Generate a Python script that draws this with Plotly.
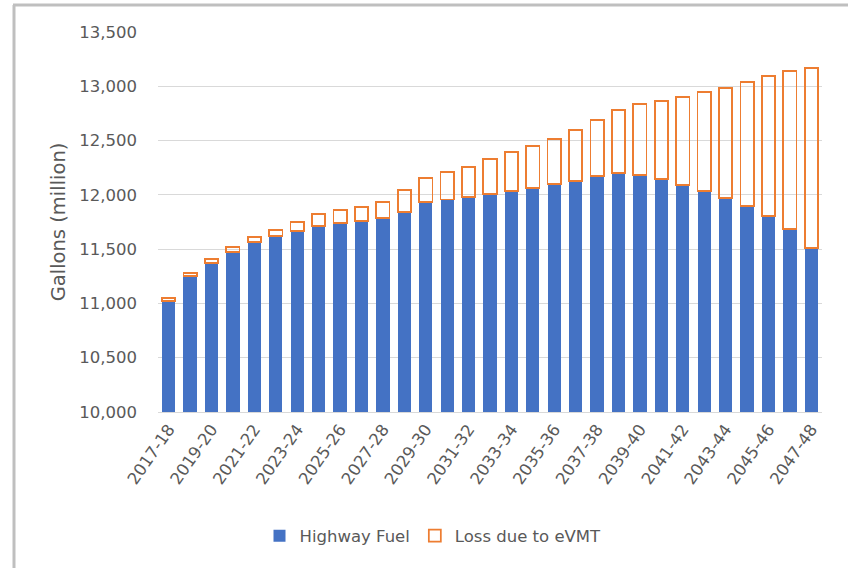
import plotly.graph_objects as go

years = ["2017-18", "2018-19", "2019-20", "2020-21", "2021-22", "2022-23", "2023-24",
         "2024-25", "2025-26", "2026-27", "2027-28", "2028-29", "2029-30", "2030-31",
         "2031-32", "2032-33", "2033-34", "2034-35", "2035-36", "2036-37", "2037-38",
         "2038-39", "2039-40", "2040-41", "2041-42", "2042-43", "2043-44", "2044-45",
         "2045-46", "2046-47", "2047-48"]

highway_fuel = [11025, 11252, 11375, 11476, 11569, 11624, 11667, 11713, 11738, 11759,
                11784, 11845, 11931, 11958, 11977, 12005, 12038, 12066, 12097, 12130,
                12174, 12204, 12183, 12143, 12091, 12036, 11968, 11897, 11805, 11683,
                11508]

loss_evmt = [27, 25, 31, 41, 46, 52, 80, 108, 123, 132, 153, 200, 221, 255, 282, 322,
             354, 387, 418, 467, 515, 578, 654, 722, 813, 909, 1019, 1145, 1290, 1458,
             1658]

tick_labels = years[::2]

FONT = "DejaVu Sans"
GRAY = "#595959"

fig = go.Figure()
fig.add_trace(go.Bar(
    x=years, y=highway_fuel, name="Highway Fuel",
    marker=dict(color="#4472C4", line=dict(width=0)),
))
fig.add_trace(go.Bar(
    x=years, y=loss_evmt, name="Loss due to eVMT",
    marker=dict(color="rgba(255,255,255,0)", line=dict(color="#ED7D31", width=1.75)),
))

W, H = 848, 568
L, R, T, B = 158, 822, 32, 412
pw, ph = R - L, B - T

def px(x):
    return (x - L) / pw

def py(y):
    return (B - y) / ph

fig.update_layout(
    width=W, height=H,
    margin=dict(l=L, r=W - R, t=T, b=H - B),
    barmode="stack", bargap=0.38,
    plot_bgcolor="white", paper_bgcolor="white",
    font=dict(family=FONT, color=GRAY, size=16),
    showlegend=True,
    legend=dict(orientation="h", x=px(433), xanchor="center", y=py(536), yanchor="middle",
                font=dict(family=FONT, size=16.5, color=GRAY), traceorder="normal",
                itemwidth=30),
    xaxis=dict(type="category", tickmode="array", tickvals=tick_labels, ticktext=tick_labels,
               tickangle=-55, showgrid=False, showline=True, linecolor="#D9D9D9",
               linewidth=1, ticks="", tickfont=dict(family=FONT, size=16.5, color=GRAY)),
    yaxis=dict(range=[10000, 13500], dtick=500, tickformat=",", showgrid=True,
               gridcolor="#D9D9D9", gridwidth=1, zeroline=False, showline=False,
               ticks="", ticklen=0, ticklabelstandoff=20,
               tickfont=dict(family=FONT, size=16.5, color=GRAY),
               title=dict(text="Gallons (million)", font=dict(family=FONT, size=19.5, color=GRAY),
                          standoff=8)),
    shapes=[
        dict(type="line", xref="paper", yref="paper", x0=px(13), x1=px(848), y0=py(5), y1=py(5),
             line=dict(color="#BFBFBF", width=3)),
        dict(type="line", xref="paper", yref="paper", x0=px(14), x1=px(14), y0=py(5), y1=py(568),
             line=dict(color="#BFBFBF", width=3)),
    ],
)

fig.write_html("out.html", config={"displayModeBar": False},
               post_script="document.body.style.margin='0px';")
